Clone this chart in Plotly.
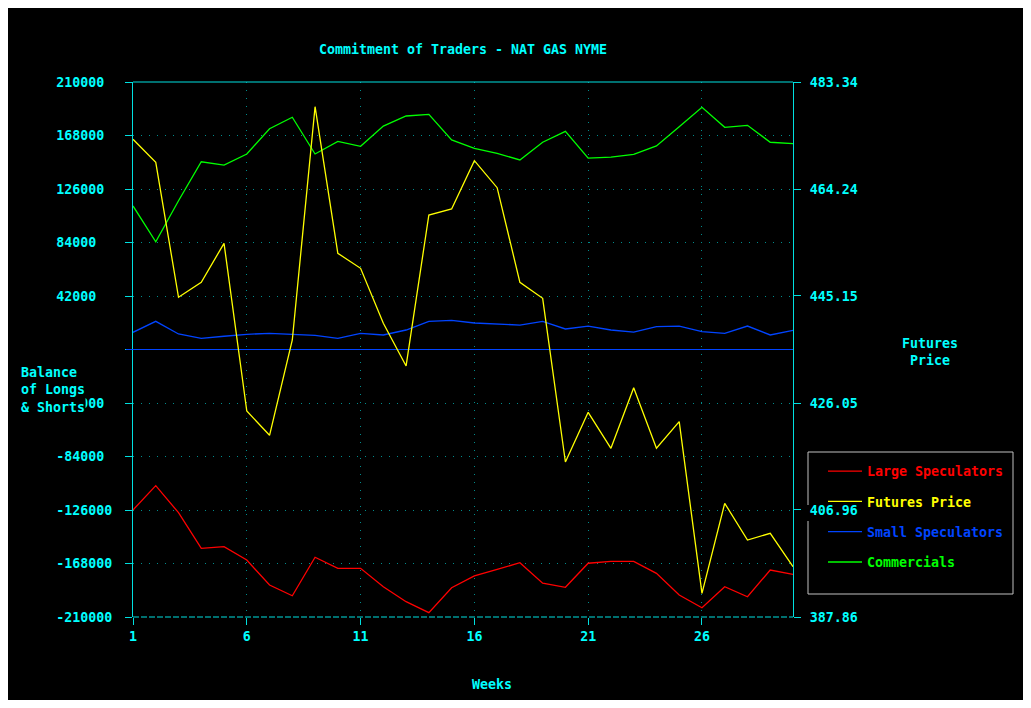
import plotly.graph_objects as go

# ---------------- data ----------------
weeks = list(range(1, 31))

large_speculators = [-126000, -106900, -128100, -156100, -154800, -165300, -184900, -193300,
                     -163100, -171800, -171800, -186200, -198000, -206600, -187000, -177800,
                     -172600, -167400, -183500, -186700, -167800, -166300, -166300, -175700,
                     -192700, -202700, -186200, -194100, -173100, -176500]

small_speculators = [13500, 22100, 12200, 8800, 10400, 11900, 12700, 11900, 11100, 8800,
                     12700, 11400, 15300, 22100, 22900, 20800, 19800, 19200, 22100, 16100,
                     18400, 15300, 13700, 17900, 18400, 14000, 12700, 18400, 11400, 15100]

commercials = [112700, 84600, 116800, 147400, 144800, 153500, 173300, 182300, 153500, 163400,
               159500, 175400, 183300, 184600, 164500, 157900, 154000, 148800, 162700, 171300,
               150300, 151100, 153200, 159800, 174900, 190100, 174400, 176000, 162700, 161600]

futures_price = [473.11, 469.01, 444.92, 447.59, 454.55, 424.62, 420.29, 437.30, 478.93, 452.77,
                 450.09, 440.28, 432.66, 459.60, 460.68, 469.30, 464.48, 447.59, 444.74, 415.52,
                 424.39, 417.97, 428.78, 417.97, 422.72, 392.09, 408.15, 401.60, 402.80, 396.84]

left_tickvals = [210000, 168000, 126000, 84000, 42000, 0, -42000, -84000, -126000, -168000, -210000]
left_ticktext = ["210000", "168000", "126000", "84000", "42000", "", "-42000", "-84000",
                 "-126000", "-168000", "-210000"]
right_tickvals = [483.34, 464.24, 445.15, 426.05, 406.96, 387.86]
right_ticktext = ["483.34", "464.24", "445.15", "426.05", "406.96", "387.86"]
week_ticks = [1, 6, 11, 16, 21, 26]

series_names = ["Large Speculators", "Futures Price", "Small Speculators", "Commercials"]
series_colors = ["#ff0000", "#ffff00", "#0044ff", "#00ff00"]

# ---------------- styling ----------------
OFF = 8                      # page body margin of the browser
W, H = 1031 - 2 * OFF, 708 - 2 * OFF
# plot area in page pixels
PL, PR, PT, PB = 133, 793, 82, 617
L, R, T, B = PL - OFF, PR - OFF, PT - OFF, PB - OFF
FONT = "DejaVu Sans Mono"
FS = 13.3
CYAN = "#00ffff"
AXC = "#00e0e0"
GRID = "#008b8b"


def px(x):
    """page x pixel -> paper x"""
    return (x - PL) / (PR - PL)


def py(y):
    """page y pixel -> paper y"""
    return (PB - y) / (PB - PT)


def fnt(color=CYAN):
    return dict(family=FONT, size=FS, color=color, weight="bold")


# pad left tick labels so they appear left-aligned (monospace font)
pad = max(len(t) for t in left_ticktext)
left_ticktext_padded = [t + "\u00a0" * (pad - len(t)) for t in left_ticktext]

fig = go.Figure()
series_data = [large_speculators, futures_price, small_speculators, commercials]
for i, (name, col, vals) in enumerate(zip(series_names, series_colors, series_data)):
    fig.add_trace(go.Scatter(
        x=weeks, y=vals, mode="lines",
        name=f"<span style='color:{col}'>{name}</span>",
        line=dict(color=col, width=1.3),
        yaxis="y2" if name == "Futures Price" else "y",
        legendgroup=f"g{i}",
    ))

fig.update_layout(
    width=W, height=H,
    paper_bgcolor="black", plot_bgcolor="black",
    margin=dict(l=L, r=W - R, t=T, b=H - B, pad=0),
    font=fnt(),
    showlegend=True,
    legend=dict(
        x=px(823), y=py(456), xanchor="left", yanchor="top",
        bgcolor="rgba(0,0,0,0)", borderwidth=0,
        font=fnt(), itemwidth=34,
        tracegroupgap=10, itemclick=False,
    ),
    xaxis=dict(
        range=[1, 30], tickvals=week_ticks, ticktext=[str(t) for t in week_ticks],
        ticks="outside", ticklen=7, tickcolor=AXC, showline=False,
        showgrid=True, gridcolor=GRID, griddash="1px,7px", gridwidth=1,
        zeroline=False, tickfont=fnt(),
    ),
    yaxis=dict(
        range=[-210000, 210000], tickvals=left_tickvals, ticktext=left_ticktext_padded,
        ticks="outside", ticklen=7, tickcolor=AXC, showline=True, linecolor=AXC, linewidth=1,
        showgrid=True, gridcolor=GRID, griddash="1px,7px", gridwidth=1,
        zeroline=True, zerolinecolor="#0044ff", zerolinewidth=1,
        ticklabelstandoff=10, tickfont=fnt(),
    ),
    yaxis2=dict(
        range=[387.86, 483.34], overlaying="y", side="right",
        tickvals=right_tickvals, ticktext=right_ticktext,
        ticks="outside", ticklen=7, tickcolor=AXC, showline=True, linecolor=AXC, linewidth=1,
        showgrid=False, zeroline=False, ticklabelstandoff=6, tickfont=fnt(),
    ),
    title=dict(text="Commitment of Traders - NAT GAS NYME", x=0.5, xref="paper",
               y=1 - (49 - OFF) / H, yref="container", xanchor="center", yanchor="middle",
               font=fnt()),
)

grey = "#c0c0c0"
shapes = [
    # top border (solid) and bottom axis (dashed)
    dict(type="line", xref="paper", yref="paper", x0=0, x1=1, y0=1, y1=1,
         line=dict(color=AXC, width=1)),
    dict(type="line", xref="paper", yref="paper", x0=0, x1=1, y0=0, y1=0,
         line=dict(color=AXC, width=1, dash="6px,2px")),
    # zero line extends over left tick
    dict(type="line", xref="paper", yref="y", x0=px(126), x1=0, y0=0, y1=0,
         line=dict(color="#0044ff", width=1)),
    # legend box
    dict(type="line", xref="paper", yref="paper", x0=px(808), x1=px(1013), y0=py(452), y1=py(452),
         line=dict(color=grey, width=1)),
    dict(type="line", xref="paper", yref="paper", x0=px(808), x1=px(1013), y0=py(594), y1=py(594),
         line=dict(color=grey, width=1)),
    dict(type="line", xref="paper", yref="paper", x0=px(1013), x1=px(1013), y0=py(452), y1=py(594),
         line=dict(color=grey, width=1)),
    dict(type="line", xref="paper", yref="paper", x0=px(808), x1=px(808), y0=py(452), y1=py(505),
         line=dict(color=grey, width=1)),
    dict(type="line", xref="paper", yref="paper", x0=px(808), x1=px(808), y0=py(521), y1=py(594),
         line=dict(color=grey, width=1)),
]
fig.update_layout(shapes=shapes)

annotations = [
    dict(text="Weeks", x=px(492), y=py(684), xref="paper", yref="paper", showarrow=False,
         xanchor="center", yanchor="middle"),
    dict(text="Futures<br>Price", x=px(930), y=py(352), xref="paper", yref="paper",
         showarrow=False, xanchor="center", yanchor="middle", align="center"),
    dict(text="Balance<br>of Longs<br>& Shorts", x=px(20), y=py(390), xref="paper", yref="paper",
         showarrow=False, xanchor="left", yanchor="middle", align="left", bgcolor="black",
         borderpad=0),
]
fig.update_layout(annotations=annotations)

fig.write_html("out.html")
